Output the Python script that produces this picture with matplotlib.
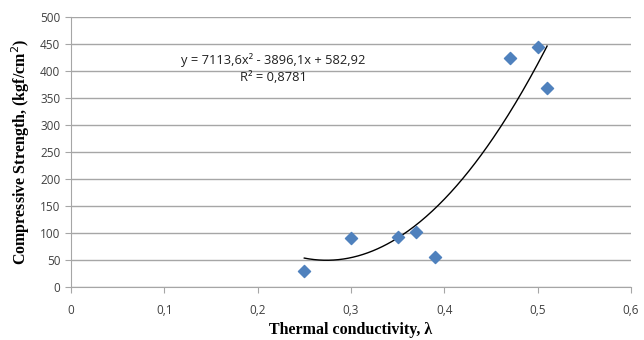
import numpy as np
import matplotlib.pyplot as plt

# measured points
conductivity = [0.25, 0.30, 0.35, 0.37, 0.39, 0.47, 0.50, 0.51]
strength = [29, 90, 93, 102, 55, 424, 444, 368]

# excel trendline (2nd order)
trend_coef = [7113.6, -3896.1, 582.92]
r2 = 0.8781

x_ticks = [0, 0.1, 0.2, 0.3, 0.4, 0.5, 0.6]
y_ticks = [0, 50, 100, 150, 200, 250, 300, 350, 400, 450, 500]

fig = plt.figure(figsize=(6.44, 3.4), dpi=100)
ax = fig.add_axes([0.110, 0.156, 0.870, 0.794])

ax.scatter(conductivity, strength, marker='D', s=38, color='#4F81BD', zorder=3)

xs = np.linspace(min(conductivity), max(conductivity), 200)
ax.plot(xs, np.polyval(trend_coef, xs), color='black', lw=1.0, zorder=2)

ax.set_xlim(0, 0.6)
ax.set_ylim(0, 500)
ax.set_xticks(x_ticks)
ax.set_yticks(y_ticks)
ax.set_xticklabels([('%g' % t).replace('.', ',') for t in x_ticks])
ax.yaxis.grid(True, color='#a6a6a6', lw=1.0)
ax.set_axisbelow(True)

for s in ['top', 'right']:
    ax.spines[s].set_visible(False)
for s in ['left', 'bottom']:
    ax.spines[s].set_color('#a6a6a6')
ax.tick_params(axis='both', colors='#a6a6a6', labelcolor='#404040', labelsize=8.5,
               length=4, direction='out')
ax.tick_params(axis='x', pad=8)
for lab in ax.get_xticklabels() + ax.get_yticklabels():
    lab.set_family('Open Sans')

ax.set_xlabel('Thermal conductivity, λ', family='Liberation Serif', weight='bold',
              fontsize=11.5, labelpad=4)
ax.set_ylabel('Compressive Strength, (kgf/cm$^2$)', family='Liberation Serif', weight='bold',
              fontsize=11.5, labelpad=6)

eq = 'y = %sx² - %sx + %s' % (str(trend_coef[0]).replace('.', ','),
                              str(-trend_coef[1]).replace('.', ','),
                              str(trend_coef[2]).replace('.', ','))
ax.text(0.2165, 420, eq, fontsize=9.3, family='Open Sans', color='#202020', ha='center', va='center')
ax.text(0.2165, 388, 'R² = ' + str(r2).replace('.', ','), fontsize=9.3, family='Open Sans',
        color='#202020', ha='center', va='center')

fig.savefig('out.png', dpi=100)
